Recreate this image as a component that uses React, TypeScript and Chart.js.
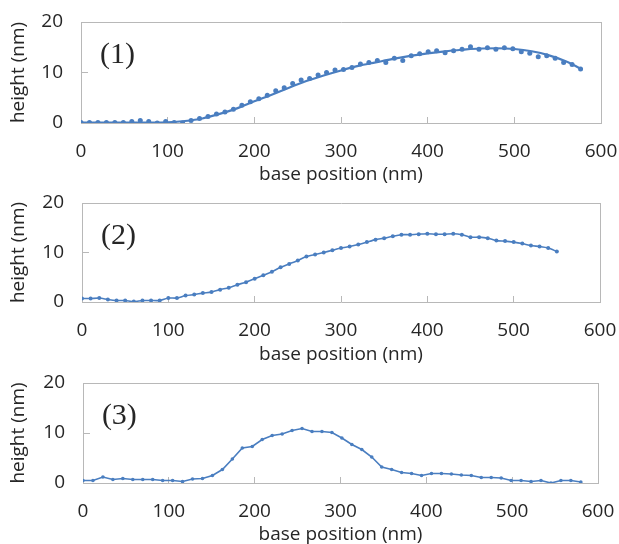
import React, { useEffect, useRef } from 'react';
import { Chart, registerables } from 'chart.js';

Chart.register(...registerables);

// ---------- data ----------
const xTickValues = [0, 100, 200, 300, 400, 500, 600];
const yTickValues = [0, 10, 20];
const panelLabels = ['(1)', '(2)', '(3)'];

// Panel (1): measured profile (sampling step in nm) + fitted curve
const p1Step = 9.77;
const p1Heights = [
  0.1, 0.1, 0.1, 0.1, 0.1, 0.1, 0.3, 0.5, 0.3, 0.0,
  0.3, 0.1, 0.0, 0.5, 0.9, 1.3, 1.8, 2.2, 2.7, 3.5,
  4.2, 4.8, 5.5, 6.4, 7.0, 7.8, 8.5, 8.8, 9.5, 10.0,
  10.5, 10.6, 11.0, 11.7, 12.0, 12.4, 12.0, 12.8, 12.4, 13.3,
  13.7, 14.1, 14.3, 13.9, 14.3, 14.6, 15.1, 14.6, 14.9, 14.6,
  14.9, 14.7, 14.1, 13.8, 13.1, 13.3, 12.8, 12.0, 11.6, 10.7,
];
const p1FitX = [0, 20, 40, 60, 80, 100, 120, 140, 160, 180, 200, 220, 240, 260, 280, 300, 320, 340, 360, 380, 400, 420, 440, 460, 480, 500, 520, 540, 560, 576];
const p1FitY = [0.1, 0.1, 0.1, 0.1, 0.1, 0.15, 0.4, 0.9, 1.8, 2.9, 4.3, 5.6, 7.0, 8.3, 9.4, 10.4, 11.3, 12.0, 12.7, 13.3, 13.8, 14.2, 14.5, 14.75, 14.8, 14.65, 14.2, 13.4, 12.2, 10.8];

// Panel (2)
const p2Step = 10;
const p2Heights = [
  0.7, 0.7, 0.8, 0.5, 0.3, 0.3, 0.1, 0.3, 0.3, 0.3,
  0.8, 0.8, 1.3, 1.5, 1.8, 2.0, 2.5, 2.9, 3.5, 4.0,
  4.7, 5.4, 6.1, 7.0, 7.7, 8.4, 9.2, 9.6, 10.0, 10.45,
  10.9, 11.2, 11.6, 12.1, 12.6, 12.9, 13.3, 13.6, 13.6, 13.7,
  13.8, 13.7, 13.7, 13.8, 13.6, 13.1, 13.1, 12.9, 12.4, 12.3,
  12.1, 11.8, 11.4, 11.2, 10.9, 10.2,
];

// Panel (3)
const p3Step = 11.6;
const p3Heights = [
  0.5, 0.5, 1.2, 0.7, 0.9, 0.7, 0.7, 0.7, 0.5, 0.5,
  0.3, 0.8, 0.9, 1.5, 2.7, 4.8, 7.0, 7.3, 8.7, 9.5,
  9.8, 10.5, 10.9, 10.3, 10.3, 10.1, 9.0, 7.7, 6.7, 5.2,
  3.2, 2.7, 2.1, 1.9, 1.5, 1.9, 1.9, 1.8, 1.6, 1.5,
  1.1, 1.1, 1.0, 0.5, 0.5, 0.3, 0.5, 0.0, 0.5, 0.5,
  0.2,
];

const axisTitleX = 'base position (nm)';
const axisTitleY = 'height (nm)';

// ---------- styles ----------
const BLUE = '#4a7ec0';
const TEXT = '#262626';
const FRAME = '#b8b8b8';
const SANS = '"Open Sans", "Noto Sans", sans-serif';

const toPoints = (step: number, ys: number[]) => ys.map((y, i) => ({ x: i * step, y }));
const pairPoints = (xs: number[], ys: number[]) => xs.map((x, i) => ({ x, y: ys[i] }));

const labelPlugin = {
  id: 'panelLabel',
  afterDraw(chart: any, _args: any, opts: any) {
    const { ctx } = chart;
    const xs = chart.scales.x;
    const ys = chart.scales.y;
    ctx.save();
    ctx.fillStyle = TEXT;
    ctx.font = '30px "Liberation Serif", "Times New Roman", serif';
    ctx.textAlign = 'left';
    ctx.textBaseline = 'middle';
    ctx.fillText(opts.label, xs.getPixelForValue(22), ys.getPixelForValue(13.4));
    ctx.restore();
  },
};

type PanelGeom = { left: number; right: number; top: number; bottom: number };

const CW = 619;
const CH = 200;

function makeConfig(datasets: any[], label: string, g: PanelGeom) {
  // border-only axes (top / right sides of the frame)
  const frameOnly = (pos: string, isX: boolean) => ({
    type: 'linear',
    position: pos,
    min: 0,
    max: isX ? 600 : 20,
    display: true,
    afterFit: (scale: any) => {
      if (isX) scale.height = 0;
      else scale.width = 0;
    },
    grid: { display: false, drawTicks: false },
    border: { display: true, color: FRAME, width: 1 },
    ticks: { display: false },
  });
  // tick-only axes, drawn pointing inwards
  const innerTicks = (pos: string, isX: boolean) => ({
    type: 'linear',
    position: pos,
    weight: -1,
    min: 0,
    max: isX ? 600 : 20,
    display: true,
    afterBuildTicks: (scale: any) => {
      scale.ticks = (isX ? xTickValues : yTickValues).map((v) => ({ value: v }));
    },
    afterFit: (scale: any) => {
      if (isX) scale.height = 0;
      else scale.width = 0;
    },
    grid: { display: true, drawOnChartArea: false, drawTicks: true, tickLength: isX ? -6 : -7, color: FRAME },
    border: { display: false },
    ticks: { display: false },
  });
  return {
    type: 'scatter',
    data: { datasets },
    plugins: [labelPlugin],
    options: {
      responsive: false,
      animation: false,
      maintainAspectRatio: false,
      layout: {
        autoPadding: false,
        padding: { left: 0, top: g.top, right: CW - g.right, bottom: 0 },
      },
      plugins: {
        legend: { display: false },
        tooltip: { enabled: false },
        panelLabel: { label },
      },
      scales: {
        x: {
          type: 'linear',
          position: 'bottom',
          min: 0,
          max: 600,
          afterBuildTicks: (scale: any) => {
            scale.ticks = xTickValues.map((v) => ({ value: v }));
          },
          afterFit: (scale: any) => {
            scale.height = CH - g.bottom;
          },
          grid: { display: true, drawOnChartArea: false, drawTicks: true, tickLength: 17, color: 'rgba(0,0,0,0)' },
          border: { display: true, color: FRAME, width: 1 },
          ticks: { color: TEXT, font: { family: SANS, size: 19 }, padding: 0, maxRotation: 0, autoSkip: false },
          title: { display: true, text: axisTitleX, color: TEXT, font: { family: SANS, size: 19 }, padding: { top: 0, bottom: 14 } },
        },
        y: {
          type: 'linear',
          position: 'left',
          min: 0,
          max: 20,
          afterBuildTicks: (scale: any) => {
            scale.ticks = yTickValues.map((v) => ({ value: v }));
          },
          afterFit: (scale: any) => {
            scale.width = g.left;
          },
          grid: { display: true, drawOnChartArea: false, drawTicks: true, tickLength: 18, color: 'rgba(0,0,0,0)' },
          border: { display: true, color: FRAME, width: 1 },
          ticks: { color: TEXT, font: { family: SANS, size: 19 }, padding: 0 },
          title: { display: true, text: axisTitleY, color: TEXT, font: { family: SANS, size: 19 }, padding: { top: 7, bottom: 0 } },
        },
        xIn: innerTicks('bottom', true),
        yIn: innerTicks('left', false),
        xTop: frameOnly('top', true),
        yRight: frameOnly('right', false),
      },
    },
  };
}

function Panel({ top, datasets, label, geom }: { top: number; datasets: () => any[]; label: string; geom: PanelGeom }) {
  const ref = useRef<HTMLCanvasElement | null>(null);
  useEffect(() => {
    if (!ref.current) return;
    const chart: any = new Chart(ref.current, makeConfig(datasets(), label, geom) as any);
    return () => chart.destroy();
  }, []);
  return (
    <canvas
      ref={ref}
      width={CW}
      height={CH}
      style={{ position: 'absolute', left: 0, top, width: CW, height: CH }}
    />
  );
}

const ds1 = () => [
  {
    type: 'line',
    data: pairPoints(p1FitX, p1FitY),
    borderColor: BLUE,
    borderWidth: 2.2,
    pointRadius: 0,
    cubicInterpolationMode: 'monotone',
    fill: false,
    xAxisID: 'x',
    yAxisID: 'y',
  },
  {
    type: 'scatter',
    data: toPoints(p1Step, p1Heights),
    backgroundColor: BLUE,
    borderColor: BLUE,
    pointRadius: 2.5,
    borderWidth: 0,
    xAxisID: 'x',
    yAxisID: 'y',
  },
];
const ds2 = () => [
  {
    type: 'line',
    data: toPoints(p2Step, p2Heights),
    borderColor: BLUE,
    backgroundColor: BLUE,
    borderWidth: 1.6,
    pointRadius: 2,
    pointBorderWidth: 0,
    tension: 0.2,
    fill: false,
    xAxisID: 'x',
    yAxisID: 'y',
  },
];
const ds3 = () => [
  {
    type: 'line',
    data: toPoints(p3Step, p3Heights),
    borderColor: BLUE,
    backgroundColor: BLUE,
    borderWidth: 1.6,
    pointRadius: 1.8,
    pointBorderWidth: 0,
    tension: 0,
    fill: false,
    xAxisID: 'x',
    yAxisID: 'y',
  },
];

export default function App() {
  return (
    <div style={{ position: 'fixed', left: 0, top: 0, width: 619, height: 544, overflow: 'hidden', background: '#fff' }}>
      <Panel top={0} datasets={ds1} label={panelLabels[0]} geom={{ left: 81, right: 601, top: 22, bottom: 123 }} />
      <Panel top={180} datasets={ds2} label={panelLabels[1]} geom={{ left: 82, right: 600, top: 23, bottom: 122 }} />
      <Panel top={360} datasets={ds3} label={panelLabels[2]} geom={{ left: 83, right: 598, top: 23, bottom: 123 }} />
    </div>
  );
}
